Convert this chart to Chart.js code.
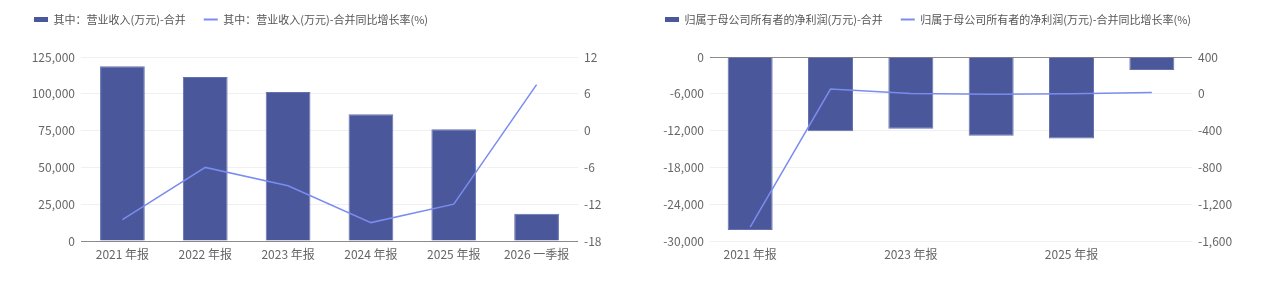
<!DOCTYPE html>
<html>
<head>
<meta charset="utf-8">
<script src="https://cdn.jsdelivr.net/npm/chart.js@4.4.1/dist/chart.umd.min.js"></script>
<style>
    body { margin: 0; background: #fff; }
    .wrap { display: flex; width: 1266px; height: 294px; }
    .box { width: 633px; height: 294px; }
</style>
</head>
<body>
<div class="wrap">
    <div class="box"><canvas id="revenueChart" width="633" height="294"></canvas></div>
    <div class="box"><canvas id="profitChart" width="633" height="294"></canvas></div>
</div>
<script>
// Categories
const periods = ['2021 年报', '2022 年报', '2023 年报', '2024 年报', '2025 年报', '2026 一季报'];

// Left chart: revenue (万元) and YoY growth (%)
const revenue = [118700, 111400, 101200, 86100, 75900, 18500];
const revenueYoY = [-14.5, -6.0, -9.0, -15.0, -12.0, 7.5];

// Right chart: net profit attributable to parent (万元) and YoY growth (%)
const netProfit = [-28200, -12100, -11700, -12850, -13300, -2100];
const netProfitYoY = [-1450, 52, 4, -5, 1, 15];

const FONT = "'Noto Sans CJK SC', 'Noto Sans', sans-serif";
const BAR_COLOR = '#4a579b';
const LINE_COLOR = '#7b8cf0';
const fmt = v => Number(v).toLocaleString('en-US');

// Force legend height so the plot area starts where the reference does
const legendSpacer = {
    id: 'legendSpacer',
    beforeInit(chart) {
        const fit = chart.legend.fit;
        chart.legend.fit = function () {
            fit.call(this);
            this.height = 61;
        };
    }
};

function legendLabels(chart) {
    const items = Chart.defaults.plugins.legend.labels.generateLabels(chart);
    items.sort((a, b) => a.datasetIndex - b.datasetIndex);
    items.forEach(it => {
        if (it.datasetIndex === 0) {
            it.pointStyle = 'rect';
            it.lineWidth = 0;
        } else {
            it.pointStyle = 'line';
            it.strokeStyle = LINE_COLOR;
            it.lineWidth = 2;
        }
    });
    return items;
}

function buildChart(id, cfg) {
    return new Chart(document.getElementById(id), {
        type: 'bar',
        data: {
            labels: periods,
            datasets: [{
                type: 'bar',
                label: cfg.barLabel,
                data: cfg.barData,
                backgroundColor: BAR_COLOR,
                borderColor: '#6572b0',
                borderWidth: 1,
                categoryPercentage: 1,
                barPercentage: cfg.barPct,
                yAxisID: 'y',
                order: 1
            }, {
                type: 'line',
                label: cfg.lineLabel,
                data: cfg.lineData,
                borderColor: LINE_COLOR,
                backgroundColor: LINE_COLOR,
                borderWidth: 1.5,
                pointRadius: 0,
                tension: 0,
                yAxisID: 'y1',
                order: 0
            }]
        },
        options: {
            responsive: false,
            animation: false,
            layout: { padding: { left: cfg.padLeft, right: 0, top: -4, bottom: 0 } },
            plugins: {
                legend: {
                    align: 'start',
                    labels: {
                        color: '#555',
                        font: { family: FONT, size: 11 },
                        usePointStyle: true,
                        pointStyleWidth: 14,
                        boxHeight: 5,
                        padding: 18,
                        generateLabels: legendLabels
                    }
                },
                tooltip: { enabled: false }
            },
            scales: {
                x: {
                    afterFit: s => { s.height = 53; },
                    grid: { display: false, drawTicks: false },
                    border: { display: false },
                    ticks: {
                        color: '#666',
                        font: { family: FONT, size: 12 },
                        autoSkip: false,
                        maxRotation: 0,
                        padding: 6,
                        callback: cfg.xTick
                    }
                },
                y: {
                    position: 'left',
                    min: cfg.yMin, max: cfg.yMax,
                    afterFit: s => { s.width = cfg.yWidth; },
                    ticks: {
                        stepSize: cfg.yStep,
                        color: '#666',
                        font: { family: FONT, size: 12 },
                        padding: 6,
                        callback: fmt
                    },
                    border: { display: false },
                    grid: {
                        drawTicks: false,
                        color: ctx => ctx.tick && ctx.tick.value === 0 ? '#8a8a8a' : '#f0f0f0'
                    }
                },
                y1: {
                    position: 'right',
                    min: cfg.y1Min, max: cfg.y1Max,
                    afterFit: s => { s.width = cfg.y1Width; },
                    ticks: {
                        stepSize: cfg.y1Step,
                        color: '#666',
                        font: { family: FONT, size: 12 },
                        padding: 6,
                        callback: fmt
                    },
                    border: { display: false },
                    grid: { display: false, drawTicks: false }
                }
            }
        },
        plugins: [legendSpacer]
    });
}

buildChart('revenueChart', {
    barLabel: '其中：营业收入(万元)-合并',
    lineLabel: '其中：营业收入(万元)-合并同比增长率(%)',
    barData: revenue,
    lineData: revenueYoY,
    barPct: 0.54,
    padLeft: 16,
    yWidth: 65, yMin: 0, yMax: 125000, yStep: 25000,
    y1Width: 55, y1Min: -18, y1Max: 12, y1Step: 6,
    xTick: function (v, i) { return periods[i]; }
});

buildChart('profitChart', {
    barLabel: '归属于母公司所有者的净利润(万元)-合并',
    lineLabel: '归属于母公司所有者的净利润(万元)-合并同比增长率(%)',
    barData: netProfit,
    lineData: netProfitYoY,
    barPct: 0.56,
    padLeft: 14,
    yWidth: 63, yMin: -30000, yMax: 0, yStep: 6000,
    y1Width: 74, y1Min: -1600, y1Max: 400, y1Step: 400,
    xTick: function (v, i) { return i % 2 === 0 ? periods[i] : ''; }
});
</script>
</body>
</html>
